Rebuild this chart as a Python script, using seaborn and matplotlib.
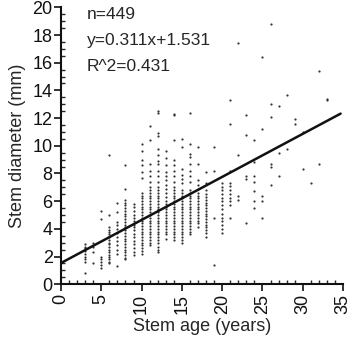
import matplotlib
matplotlib.use("Agg")
import matplotlib.pyplot as plt
from matplotlib.ticker import MultipleLocator
import seaborn as sns
import pandas as pd

# stem diameter (mm), one list per stem age (years)
diam_by_age = {
    3: [2.9, 2.7, 2.6, 2.4, 2.2, 2.0, 1.8, 1.6, 0.8],
    4: [3.0, 2.7, 2.3, 1.5],
    5: [5.3, 4.7, 2.0, 1.8, 1.6, 1.4, 1.2],
    6: [9.3, 5.0, 4.1, 3.9, 3.8, 3.6, 3.4, 3.2, 3.0, 2.9, 2.7, 2.5, 2.3, 2.1,
        2.0, 1.8, 1.6, 1.5],
    7: [5.9, 5.2, 4.5, 4.3, 4.0, 3.7, 3.4, 3.1, 2.8, 2.5, 2.2, 1.3],
    8: [8.6, 6.9, 6.1, 5.9, 5.7, 5.5, 5.3, 5.1, 4.9, 4.7, 4.5, 4.3, 4.1, 3.9,
        3.7, 3.5, 3.3, 3.1, 2.9, 2.7, 2.5, 2.3, 2.1, 1.9, 1.8],
    9: [5.8, 5.6, 5.3, 5.0, 4.8, 4.6, 4.3, 4.1, 3.9, 3.6, 3.4, 3.1, 2.9, 2.6,
        2.3, 2.1],
    10: [10.1, 9.6, 9.0, 8.6, 8.1, 7.7, 6.6, 6.4, 6.2, 6.0, 5.8, 5.6, 5.4, 5.2,
         5.0, 4.8, 4.6, 4.4, 4.2, 4.0, 3.8, 3.6, 3.4, 3.2, 3.0, 2.8, 2.6, 2.4, 2.2],
    11: [11.4, 10.4, 8.7, 8.2, 7.8, 7.4, 7.0, 6.8, 6.6, 6.4, 6.2, 6.0, 5.8, 5.6,
         5.4, 5.2, 5.0, 4.8, 4.6, 4.4, 4.2, 4.0, 3.8, 3.6, 3.4, 3.2, 3.0, 2.8],
    12: [12.5, 12.4, 10.9, 10.7, 9.8, 9.3, 8.9, 8.7, 8.2, 7.8, 7.4, 7.0, 6.8,
         6.6, 6.4, 6.2, 6.0, 5.8, 5.6, 5.4, 5.2, 5.0, 4.8, 4.6, 4.4, 4.2, 4.0,
         3.8, 3.6, 3.4, 3.2, 3.0, 2.7, 2.5, 2.3],
    13: [9.6, 9.1, 8.6, 8.1, 7.8, 7.5, 7.2, 6.9, 6.6, 6.3, 6.0, 5.8, 5.6, 5.4,
         5.2, 5.0, 4.8, 4.6, 4.4, 4.2, 4.0, 3.8, 3.6, 3.3],
    14: [12.3, 12.2, 10.4, 9.0, 8.6, 8.2, 7.8, 7.4, 7.0, 6.8, 6.6, 6.4, 6.2,
         6.0, 5.8, 5.6, 5.4, 5.2, 5.0, 4.8, 4.6, 4.4, 4.2, 4.0, 3.8, 3.6, 3.4, 3.2],
    15: [10.5, 9.9, 8.3, 7.9, 7.6, 7.3, 6.8, 6.6, 6.4, 6.2, 6.0, 5.8, 5.6, 5.4,
         5.2, 5.0, 4.8, 4.6, 4.4, 4.2, 4.0, 3.8, 3.6, 3.4, 3.2, 3.0],
    16: [12.4, 10.1, 9.4, 9.2, 8.7, 8.2, 7.8, 7.4, 6.8, 6.6, 6.4, 6.2, 6.0, 5.8,
         5.6, 5.4, 5.2, 5.0, 4.8, 4.6, 4.4, 4.2, 4.0, 3.8, 3.6],
    17: [9.9, 8.7, 7.5, 7.2, 6.9, 6.6, 6.4, 6.2, 6.0, 5.8, 5.6, 5.4, 5.2, 5.0,
         4.8, 4.6, 4.4, 4.1],
    18: [8.1, 7.3, 6.8, 6.5, 6.3, 6.1, 5.9, 5.7, 5.5, 5.3, 5.1, 4.9, 4.7, 4.5,
         4.3, 4.1, 3.9, 3.7, 3.4],
    19: [9.9, 8.2, 4.8, 1.4],
    20: [7.3, 7.0, 6.8, 6.5, 6.2, 6.0, 5.7, 5.4, 5.1, 4.8, 4.6, 4.3, 4.0, 3.7],
    21: [13.3, 11.6, 8.2, 7.3, 7.1, 6.8, 6.5, 6.2, 6.0, 5.7, 4.8],
    22: [17.4, 9.3, 6.4, 6.1],
    23: [12.2, 10.8, 7.8, 7.6, 4.4],
    24: [10.4, 8.8, 7.8, 7.4, 6.7, 6.0, 5.5],
    25: [16.4, 11.2, 6.4, 6.0, 4.8],
    26: [18.8, 13.0, 12.1, 8.7, 8.5, 7.2],
    27: [12.9, 9.5, 7.8],
    28: [13.7, 9.8],
    29: [11.9, 11.6],
    30: [11.0, 8.3],
    31: [7.3],
    32: [15.4, 8.7],
    33: [13.4, 13.3],
}

n_stems = 449
slope = 0.311
intercept = 1.531
r_squared = 0.431
fit_x = [0, 34.7]

ages = []
diams = []
for age, values in diam_by_age.items():
    ages.extend([age] * len(values))
    diams.extend(values)
data = pd.DataFrame({'age': ages, 'diameter': diams})

sns.set_style("ticks")
plt.rcParams['font.family'] = ['Liberation Sans', 'DejaVu Sans']

fig = plt.figure(figsize=(3.63, 3.5), dpi=100)
ax = fig.add_axes([0.168, 0.188, 0.777, 0.791])

sns.scatterplot(data=data, x='age', y='diameter', color='#333333', s=2.5,
                linewidth=0, ax=ax)
fit_y = [slope * x + intercept for x in fit_x]
ax.plot(fit_x, fit_y, color='#111111', linewidth=1.8)

ax.set_xlim(0, 35)
ax.set_ylim(0, 20)
ax.xaxis.set_major_locator(MultipleLocator(5))
ax.xaxis.set_minor_locator(MultipleLocator(1))
ax.yaxis.set_major_locator(MultipleLocator(2))
ax.yaxis.set_minor_locator(MultipleLocator(0.5))
ax.tick_params(which='major', direction='out', length=5, width=1.2,
               labelsize=13, colors='#111111')
ax.tick_params(which='minor', direction='in', length=3, width=1)
ax.tick_params(axis='x', which='major', labelrotation=90, pad=2)
ax.tick_params(axis='y', which='major', pad=1)

for side in ['top', 'right']:
    ax.spines[side].set_visible(False)
for side in ['left', 'bottom']:
    ax.spines[side].set_linewidth(1.5)
    ax.spines[side].set_color('#111111')

ax.set_xlabel('Stem age (years)', fontsize=13, labelpad=3)
ax.set_ylabel('Stem diameter (mm)', fontsize=13, labelpad=5)

ax.text(3.2, 19.5, f'n={n_stems}', fontsize=12.5, va='center', ha='left')
ax.text(3.2, 17.6, f'y={slope}x+{intercept}', fontsize=12.5, va='center', ha='left')
ax.text(3.2, 15.7, f'R^2={r_squared}', fontsize=12.5, va='center', ha='left')

plt.savefig('out.png', dpi=100)
